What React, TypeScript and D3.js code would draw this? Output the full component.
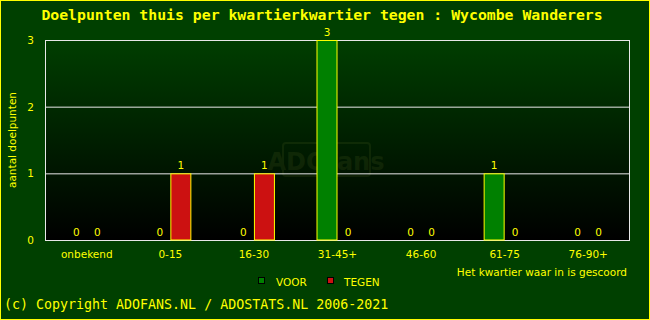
import React from "react";
import * as d3 from "d3";

const categories = ["onbekend", "0-15", "16-30", "31-45+", "46-60", "61-75", "76-90+"];
const voor = [0, 0, 0, 3, 0, 1, 0];
const tegen = [0, 1, 1, 0, 0, 0, 0];
const yTicks = [0, 1, 2, 3];
const title = "Doelpunten thuis per kwartierkwartier tegen : Wycombe Wanderers";

const W = 650, H = 320;
const L = 45, R = 630, T = 40, B = 240;

export default function App() {
  const x = d3.scaleBand<string>().domain(categories).range([L, R]);
  const y = d3.scaleLinear().domain([0, 3]).range([B, T]);
  const bw = 21;
  const sans = "DejaVu Sans, sans-serif";
  const mono = "DejaVu Sans Mono, monospace";
  const yellow = "#ffff00";
  const fs = 10.5;
  return (
    <svg width={W} height={H} style={{ position: "absolute", left: 0, top: 0 }}>
      <defs>
        <linearGradient id="pg" x1="0" y1="0" x2="0" y2="1">
          <stop offset="0" stopColor="#003e00" />
          <stop offset="1" stopColor="#000000" />
        </linearGradient>
      </defs>
      <rect x={0.5} y={0.5} width={W - 1} height={H - 1} fill="#004000" stroke={yellow} />
      <text x={W / 2 - 3} y={20} textAnchor="middle" fill={yellow} fontFamily={mono} fontSize={14.8} fontWeight="bold">{title}</text>
      <rect x={L} y={T} width={R - L} height={B - T} fill="url(#pg)" />
      {/* watermark */}
      <g opacity={0.14}>
        <rect x={283} y={143} width={87} height={33} fill="none" stroke="#6b7b2f" strokeWidth={2} rx={3} />
        <text x={326} y={170} textAnchor="middle" fill="#6b7b2f" fontFamily={sans} fontWeight="bold" fontSize={24}>ADOfans</text>
      </g>
      {yTicks.map((t) => (
        <g key={t}>
          {t > 0 && t < 3 && <line x1={L} x2={R} y1={y(t) + 0.5} y2={y(t) + 0.5} stroke="#e8e8e8" />}
          <text x={34} y={y(t) + 4} textAnchor="end" fill={yellow} fontFamily={sans} fontSize={fs}>{t}</text>
        </g>
      ))}
      <rect x={L + 0.5} y={T + 0.5} width={R - L - 1} height={B - T} fill="none" stroke="#e8e8e8" />
      {categories.map((c, i) => {
        const cx = (x(c) as number) + x.bandwidth() / 2;
        return (
          <g key={c}>
            {voor[i] > 0 && (
              <rect x={cx - bw + 0.5} y={y(voor[i]) + 0.5} width={bw - 1} height={y(0) - y(voor[i]) - 0.5} fill="#008000" stroke={yellow} />
            )}
            {tegen[i] > 0 && (
              <rect x={cx + 0.5} y={y(tegen[i]) + 0.5} width={bw - 1} height={y(0) - y(tegen[i]) - 0.5} fill="#cc1111" stroke={yellow} />
            )}
            <text x={cx - bw / 2} y={y(voor[i]) - 4} textAnchor="middle" fill={yellow} fontFamily={sans} fontSize={fs}>{voor[i]}</text>
            <text x={cx + bw / 2} y={y(tegen[i]) - 4} textAnchor="middle" fill={yellow} fontFamily={sans} fontSize={fs}>{tegen[i]}</text>
            <text x={cx} y={258} textAnchor="middle" fill={yellow} fontFamily={sans} fontSize={fs}>{c}</text>
          </g>
        );
      })}
      <text transform={`translate(16,140) rotate(-90)`} textAnchor="middle" fill={yellow} fontFamily={sans} fontSize={fs}>aantal doelpunten</text>
      <text x={627} y={276} textAnchor="end" fill={yellow} fontFamily={sans} fontSize={fs}>Het kwartier waar in is gescoord</text>
      <rect x={258.5} y={277.5} width={6} height={6} fill="#008000" stroke="#000" />
      <text x={276} y={286} fill={yellow} fontFamily={sans} fontSize={fs}>VOOR</text>
      <rect x={327.5} y={277.5} width={6} height={6} fill="#cc1111" stroke="#000" />
      <text x={344} y={286} fill={yellow} fontFamily={sans} fontSize={fs}>TEGEN</text>
      <text x={4} y={309} fill={yellow} fontFamily={mono} fontSize={13.3}>(c) Copyright ADOFANS.NL / ADOSTATS.NL 2006-2021</text>
    </svg>
  );
}
